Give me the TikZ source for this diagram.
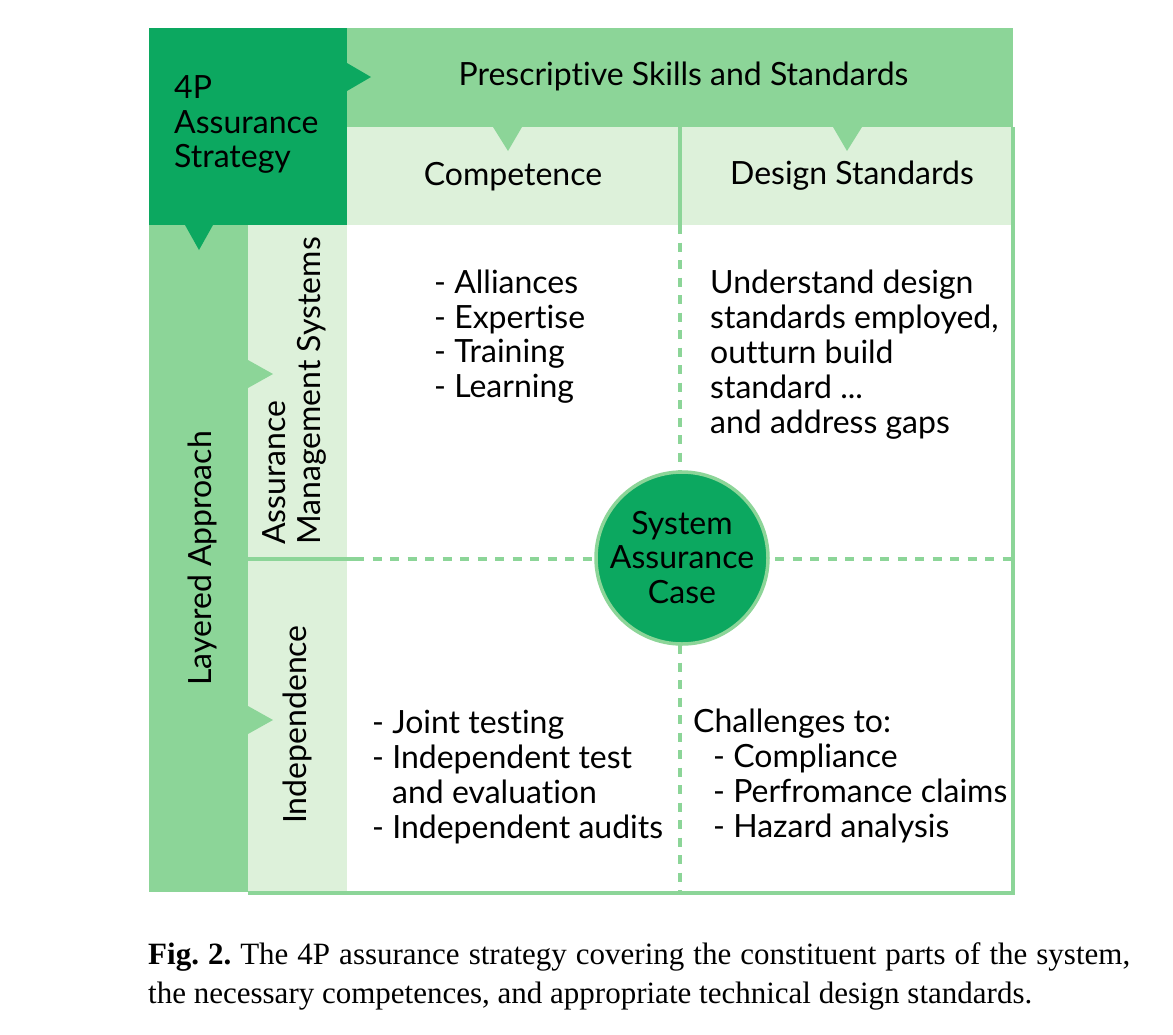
\documentclass[tikz,border=0pt]{standalone}
\usepackage{fontspec}
\setmainfont{Liberation Serif}
\newfontfamily\gill[Ligatures={NoCommon}]{Lato}
\definecolor{dkg}{HTML}{0CA860}
\definecolor{mdg}{HTML}{8CD598}
\definecolor{ltg}{HTML}{DDF1DA}
\begin{document}
\frenchspacing
\begin{tikzpicture}[x=1pt,y=-1pt,
  region/.style={inner sep=0pt, outer sep=0pt, anchor=north west, draw=none},
  lbl/.style={font=\gill\fontsize{32}{35}\selectfont, inner sep=0pt, anchor=base west},
  clbl/.style={font=\gill\fontsize{32}{35}\selectfont, inner sep=0pt, anchor=base},
  gline/.style={draw=mdg, line width=4pt},
  dgline/.style={draw=mdg, line width=4pt, dash pattern=on 9pt off 8.5pt},
  captxt/.style={font=\fontsize{31}{39}\selectfont, inner sep=0pt, anchor=base west}]
\useasboundingbox (0,0) rectangle (1173,1034);
\fill[white] (0,0) rectangle (1173,1034);
% regions
\node[region, fill=dkg, minimum width=198, minimum height=197] (strat) at (149,28) {};
\node[region, fill=mdg, minimum width=666, minimum height=99] (presc) at (347,28) {};
\node[region, fill=ltg, minimum width=333, minimum height=98] (comp) at (347,127) {};
\node[region, fill=ltg, minimum width=333, minimum height=98] (dstd) at (680,127) {};
\node[region, fill=mdg, minimum width=99, minimum height=667] (layer) at (149,225) {};
\node[region, fill=ltg, minimum width=99, minimum height=334] (ams) at (248,225) {};
\node[region, fill=ltg, minimum width=99, minimum height=333] (indep) at (248,559) {};
% grid lines
\coordinate (vtop) at (680,127);
\coordinate (vmid) at (680,225);
\coordinate (vbot) at (680,893);
\coordinate (hl) at (248,559);
\coordinate (hm) at (355,559);
\coordinate (hr) at (1013,559);
\coordinate (rt) at (1013,127);
\coordinate (rb) at (1013,893);
\coordinate (bl) at (248,893);
\draw[gline] (vtop) -- (vmid);
\draw[dgline] (vmid) -- (vbot);
\draw[gline] (hl) -- (hm);
\draw[dgline] (hm) -- (hr);
\draw[draw=mdg, line width=3.5pt] (rt) -- (rb);
\draw[draw=mdg, line width=3.5pt] (bl) -- ([xshift=1.75pt]rb);
% triangles
\fill[dkg] (347,63) -- (371,77) -- (347,91) -- cycle;
\fill[mdg] (493,127) -- (508,151) -- (522,127) -- cycle;
\fill[mdg] (833,127) -- (847,151) -- (862,127) -- cycle;
\fill[dkg] (185,225) -- (199,250) -- (213,225) -- cycle;
\fill[mdg] (248,360) -- (273,374) -- (248,388) -- cycle;
\fill[mdg] (248,706) -- (273,720) -- (248,734) -- cycle;
% central circle
\node[circle, fill=dkg, draw=mdg, line width=3.5pt, minimum size=172, inner sep=0pt] (sac) at (682,558) {};
\node[clbl] (sac1) at (682,534) {System};
\node[clbl] (sac2) at (682,568) {Assurance};
\node[clbl] (sac3) at (682,603) {Case};
% headers
\node[lbl] (s1) at (174,98) {4P};
\node[lbl] (s2) at (174,133) {Assurance};
\node[lbl] (s3) at (174,167) {Strategy};
\node[clbl] (ph) at (683.5,85) {Prescriptive Skills and Standards};
\node[clbl] (ch) at (513,185) {Competence};
\node[clbl] (dh) at (852,184) {Design Standards};
\node[clbl, rotate=90] (lh) at (211,558.5) {Layered Approach};
\node[lbl, rotate=90] (ah1) at (285,545) {Assurance};
\node[lbl, rotate=90] (ah2) at (320,545) {Management Systems};
\node[clbl, rotate=90] (ih) at (306,724.5) {Independence};
% cell texts
\node[lbl] (ca1) at (434,293) {- Alliances};
\node[lbl] (ca2) at (434,328) {- Expertise};
\node[lbl] (ca3) at (434,362) {- Training};
\node[lbl] (ca4) at (434,397) {- Learning};
\node[lbl] (da1) at (710,293) {Understand design};
\node[lbl] (da2) at (710,328) {standards employed,};
\node[lbl] (da3) at (710,363) {outturn build};
\node[lbl] (da4) at (710,398) {standard ...};
\node[lbl] (da5) at (710,433) {and address gaps};
\node[lbl] (ia1) at (372,733) {- Joint testing};
\node[lbl] (ia2) at (372,768) {- Independent test};
\node[lbl] (ia3) at (392,803) {and evaluation};
\node[lbl] (ia4) at (372,838) {- Independent audits};
\node[lbl] (dc1) at (693,732) {Challenges to:};
\node[lbl] (dc2) at (713,767) {- Compliance};
\node[lbl] (dc3) at (713,802) {- Perfromance claims};
\node[lbl] (dc4) at (713,837) {- Hazard analysis};
% caption
\node[captxt] (cap1) at (148,964) {\makebox[982pt][s]{\textbf{Fig. 2.} The 4P assurance strategy covering the constituent parts of the system,}};
\node[captxt] (cap2) at (148,1003) {the necessary competences, and appropriate technical design standards.};
\end{tikzpicture}
\end{document}
